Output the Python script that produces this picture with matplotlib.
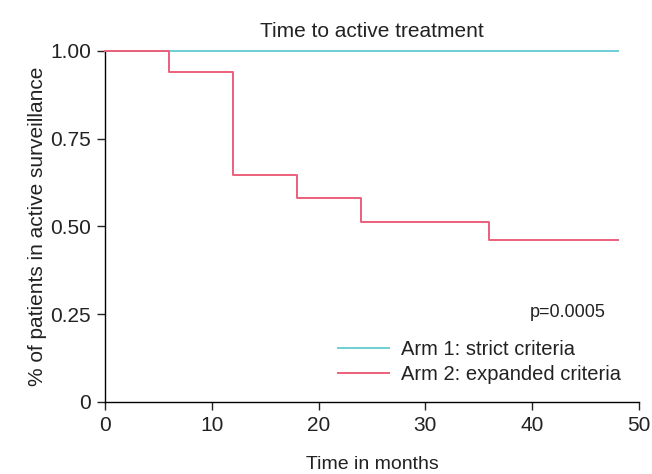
import matplotlib.pyplot as plt

plt.rcParams['font.family'] = ['Liberation Sans', 'DejaVu Sans']

# step times (months) and survival fractions
arm1_t = [0, 48]
arm1_s = [1.0, 1.0]
arm2_t = [0, 6, 12, 18, 24, 36, 48]
arm2_s = [1.0, 0.939, 0.647, 0.582, 0.513, 0.462, 0.462]

xticks = [0, 10, 20, 30, 40, 50]
yticks = [0, 0.25, 0.5, 0.75, 1.0]
yticklabels = ['0', '0.25', '0.50', '0.75', '1.00']

fig = plt.figure(figsize=(6.52, 4.74), dpi=100)
ax = fig.add_axes([0.161, 0.152, 0.819, 0.741])

ax.step(arm1_t, arm1_s, where='post', color='#6ccfd5', lw=1.4,
        label='Arm 1: strict criteria', clip_on=False, zorder=3)
ax.step(arm2_t, arm2_s, where='post', color='#ec5f7b', lw=1.4,
        label='Arm 2: expanded criteria', clip_on=False, zorder=4)

ax.set_xlim(0, 50)
ax.set_ylim(0, 1.0)
ax.set_xticks(xticks)
ax.set_yticks(yticks)
ax.set_yticklabels(yticklabels)
ax.spines['top'].set_visible(False)
ax.spines['right'].set_visible(False)
ax.tick_params(direction='out', length=6, width=1, pad=4, labelsize=15,
               colors='#222222')
ax.spines['left'].set_linewidth(1)
ax.spines['bottom'].set_linewidth(1)

ax.set_title('Time to active treatment', fontsize=15, pad=10, color='#222222')
ax.set_xlabel('Time in months', fontsize=14, labelpad=15, color='#222222')
ax.set_ylabel('% of patients in active surveillance', fontsize=15, labelpad=2,
              color='#222222')

ax.text(0.938, 0.255, 'p=0.0005', transform=ax.transAxes, ha='right',
        va='center', fontsize=13, color='#222222')
leg = ax.legend(loc='lower right', bbox_to_anchor=(1.0, 0.0), frameon=False,
                fontsize=14.5, handlelength=2.5, handletextpad=0.6,
                labelspacing=0.3)
for t in leg.get_texts():
    t.set_color('#222222')

fig.savefig('out.png', dpi=100)
